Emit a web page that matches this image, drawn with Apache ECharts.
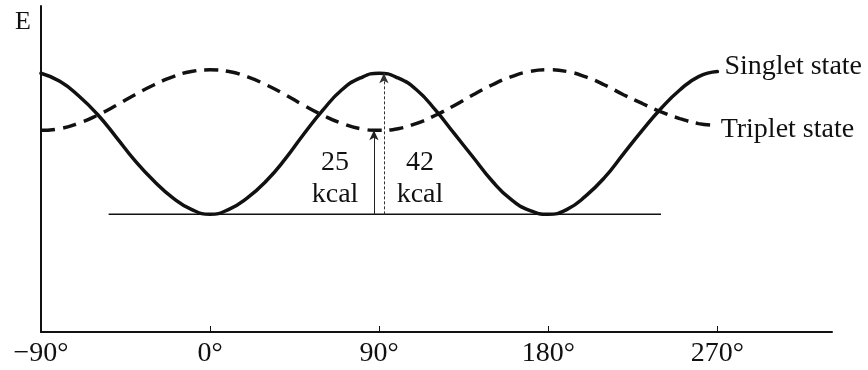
<!DOCTYPE html>
<html>
<head>
<meta charset="utf-8">
<script src="https://cdn.jsdelivr.net/npm/echarts@6/dist/echarts.min.js"></script>
<style>
  html, body { margin: 0; padding: 0; background: #ffffff; }
  #chart { width: 868px; height: 370px; }
</style>
</head>
<body>
<div id="chart"></div>
<script>
// Torsion angle (degrees) and relative energy (kcal) of the two states
const singletAngles = [-90, -80, -70, -60, -50, -40, -30, -20, -10, 0, 10, 20, 30, 40, 50, 60, 70, 80, 90,
                       100, 110, 120, 130, 140, 150, 160, 170, 180, 190, 200, 210, 220, 230, 240, 250, 260, 270];
const singletEnergy = [42, 39.6, 35.3, 29.8, 23, 16, 10, 5, 1.5, 0, 1.5, 5, 10, 16.5, 24, 31, 37, 40.6, 42,
                       40.6, 37, 31, 24, 17, 10, 4.5, 1.2, 0, 1.5, 5.5, 11, 18, 25, 31.5, 37, 41, 42.5];

const tripletAngles = [-90, -80, -70, -60, -50, -40, -30, -20, -10, 0, 10, 20, 30, 40, 50, 60, 70, 80, 90,
                       100, 110, 120, 130, 140, 150, 160, 170, 180, 190, 200, 210, 220, 230, 240, 250, 260, 268];
const tripletEnergy = [25, 25.5, 27.1, 29.5, 32.4, 35.6, 38.5, 40.9, 42.5, 43, 42.5, 40.9, 38.5, 35.6, 32.4, 29.5, 27.1, 25.5, 25,
                       25.5, 27.1, 29.5, 32.4, 35.6, 38.5, 40.9, 42.5, 43, 42.5, 40.9, 38.5, 35.6, 33, 30.5, 28.5, 27, 26.5];

// Energy gaps measured at 90°
const gapTriplet = 25;
const gapSinglet = 42;
const gapUnit = 'kcal';

// Reference level (singlet minimum) and its drawn span
const baseLevel = 0;
const baseSpan = [-54, 240];

// Axis ticks
const xTickValues = [0, 90, 180, 270];
const xLabelValues = [-90, 0, 90, 180, 270];

const seriesNames = ['Singlet state', 'Triplet state'];

const FONT = '"Liberation Serif", "Times New Roman", serif';
const INK = '#111111';
const TEXT_SIZE = 28;

const zip = (xs, ys) => xs.map((x, i) => [x, ys[i]]);

const chart = echarts.init(document.getElementById('chart'), null, { renderer: 'canvas' });

const option = {
  backgroundColor: '#ffffff',
  animation: false,
  grid: { left: 41, right: 36, top: 6, bottom: 38, containLabel: false },
  xAxis: {
    type: 'value',
    min: -90,
    max: 331,
    interval: 90,
    axisLine: { show: true, onZero: false, lineStyle: { color: INK, width: 2 } },
    axisTick: {
      show: true, inside: true, length: 6,
      customValues: xTickValues,
      lineStyle: { color: INK, width: 1 }
    },
    axisLabel: {
      show: true,
      customValues: xLabelValues,
      margin: 8,
      color: INK,
      fontFamily: FONT,
      fontSize: TEXT_SIZE,
      formatter: v => (v < 0 ? '\u2212' + Math.abs(v) : String(v)) + '°'
    },
    splitLine: { show: false }
  },
  yAxis: {
    type: 'value',
    min: -35,
    max: 62,
    name: 'E',
    nameLocation: 'end',
    nameGap: -16,
    nameTextStyle: {
      color: INK, fontFamily: FONT, fontSize: 26,
      align: 'right', verticalAlign: 'middle', padding: [0, 10, 0, 0]
    },
    axisLine: { show: true, onZero: false, lineStyle: { color: INK, width: 2 } },
    axisTick: { show: false },
    axisLabel: { show: false },
    splitLine: { show: false }
  },
  series: [
    {
      name: seriesNames[0],
      type: 'line',
      data: zip(singletAngles, singletEnergy),
      smooth: 0.5,
      showSymbol: false,
      symbol: 'none',
      lineStyle: { color: INK, width: 3.5, cap: 'round' },
      endLabel: {
        show: true,
        formatter: seriesNames[0],
        distance: 7,
        offset: [0, -5],
        color: INK,
        fontFamily: FONT,
        fontSize: TEXT_SIZE
      },
      markLine: {
        silent: true,
        symbol: ['none', 'arrow'],
        symbolSize: [7, 10],
        label: { show: false },
        lineStyle: { color: '#333333', width: 1, type: [3, 2] },
        data: [[{ coord: [92.5, baseLevel] }, { coord: [92.5, gapSinglet] }]]
      },
      z: 3
    },
    {
      name: seriesNames[1],
      type: 'line',
      data: zip(tripletAngles, tripletEnergy),
      smooth: 0.5,
      showSymbol: false,
      symbol: 'none',
      lineStyle: { color: INK, width: 3.5, type: [14, 8] },
      endLabel: {
        show: true,
        formatter: seriesNames[1],
        distance: 7,
        offset: [0, 4],
        color: INK,
        fontFamily: FONT,
        fontSize: TEXT_SIZE
      },
      markLine: {
        silent: true,
        symbol: ['none', 'arrow'],
        symbolSize: [7, 10],
        label: { show: false },
        lineStyle: { color: '#222222', width: 1, type: 'solid' },
        data: [[{ coord: [87.2, baseLevel] }, { coord: [87.2, gapTriplet] }]]
      },
      z: 3
    },
    {
      name: 'baseline',
      type: 'line',
      data: baseSpan.map(a => [a, baseLevel]),
      showSymbol: false,
      symbol: 'none',
      lineStyle: { color: INK, width: 1.5 },
      z: 2
    },
    {
      name: 'gap labels',
      type: 'scatter',
      symbolSize: 0,
      itemStyle: { opacity: 1, color: 'transparent' },
      data: [
        { value: [66.5, 10.5], gap: gapTriplet },
        { value: [111.7, 10.5], gap: gapSinglet }
      ],
      label: {
        show: true,
        position: 'inside',
        formatter: p => p.data.gap + '\n' + gapUnit,
        color: INK,
        opacity: 1,
        fontFamily: FONT,
        fontSize: TEXT_SIZE,
        lineHeight: 32,
        align: 'center',
        verticalAlign: 'middle'
      },
      silent: true,
      z: 4
    }
  ]
};

chart.setOption(option);
</script>
</body>
</html>
